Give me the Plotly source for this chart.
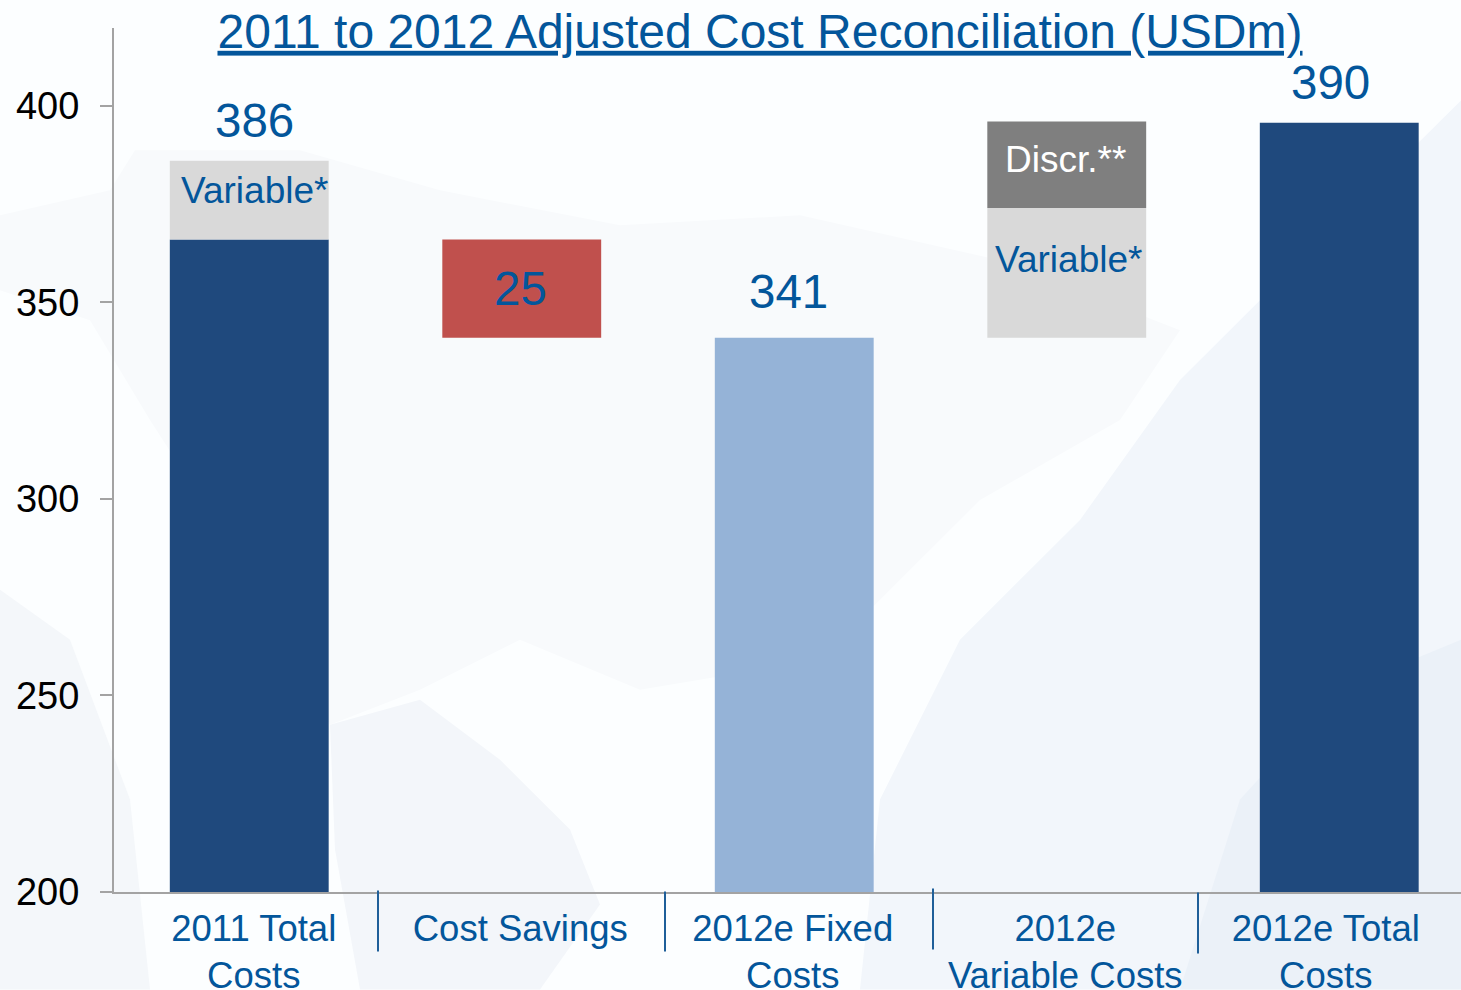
import plotly.graph_objects as go

# ---- data ----
categories = ["2011 Total<br>Costs", "Cost Savings", "2012e Fixed<br>Costs",
              "2012e<br>Variable Costs", "2012e Total<br>Costs"]
positions = [0, 1, 2, 3, 4]
y_ticks = [200, 250, 300, 350, 400]

total_x = [0, 2, 4]
total_base = [200, 200, 199.5]
total_vals = [166, 141, 196.2]
total_colors = ["#1F497D", "#95B3D7", "#1F497D"]

savings_x = [1]
savings_base = [341]
savings_vals = [25]

variable_x = [0, 3]
variable_base = [366, 341]
variable_vals = [20, 33]

discr_x = [3]
discr_base = [374]
discr_vals = [22]

# ---- layout constants (pixels) ----
W, H = 1461, 990
L, R, T, B = 114, 1461, 27.5, 892.5
BLUE = "#03569B"
FONT = "Liberation Sans"
AXIS = "#A3A3A3"


def px(x):
    return (x - L) / (R - L)


def py(y):
    return (B - y) / (B - T)


fig = go.Figure()
for name, xs, base, vals, col in [
    ("Fixed", total_x, total_base, total_vals, total_colors),
    ("Savings", savings_x, savings_base, savings_vals, "#C0504D"),
    ("Variable", variable_x, variable_base, variable_vals, "#D9D9D9"),
    ("Discretionary", discr_x, discr_base, discr_vals, "#7F7F7F"),
]:
    fig.add_trace(go.Bar(name=name, x=xs, y=vals, base=base, width=0.583,
                         marker=dict(color=col, line=dict(width=0)),
                         cliponaxis=False, showlegend=False))

# pale world-map backdrop
land = [
    ("M0,215 L110,190 L135,150 L300,150 L440,190 L620,225 L800,215 L1000,260 L1180,330 L1120,420 L980,500 L880,600 "
     "L820,660 L640,690 L520,640 L420,690 L330,725 L240,560 L150,420 L90,320 L0,290 Z", "#F8FAFC"),
    ("M330,725 L420,700 L500,760 L570,830 L600,905 L540,990 L360,990 L335,850 Z", "#F3F6FA"),
    ("M1461,100 L1330,230 L1180,380 L1080,520 L960,640 L880,800 L860,990 L1461,990 Z", "#F2F6FB"),
    ("M1180,990 L1240,800 L1340,690 L1461,640 L1461,990 Z", "#EBF1F8"),
    ("M0,590 L70,640 L130,800 L150,990 L0,990 Z", "#F4F7FA"),
]
shapes = [dict(type="path", xref="paper", yref="paper", layer="below", line=dict(width=0), fillcolor=c,
               path=" ".join(
                   (seg[0] + f"{px(float(seg[1:].split(',')[0])):.5f},{py(float(seg.split(',')[1])):.5f}")
                   if seg != "Z" else "Z" for seg in p.split()))
          for p, c in land]

# separators under the category labels
for x, y0, y1 in [(378, 891, 952), (665, 892, 952), (933, 889, 950), (1198, 893, 954)]:
    shapes.append(dict(type="line", xref="paper", yref="paper", x0=px(x), x1=px(x), y0=py(y0), y1=py(y1),
                       line=dict(color="#1F5F99", width=2)))
annotations = []


def label(text, x, y, xshift, yshift, size, color=BLUE):
    annotations.append(dict(text=text, x=x, y=y, xref="x", yref="y", xshift=xshift, yshift=yshift,
                            showarrow=False, xanchor="center", yanchor="middle",
                            font=dict(family=FONT, size=size, color=color)))


label("386", 0, 386, 5, 40, 47.5)
label("Variable*", 0, 386, 5, -30, 37)
label("25", 1, 366, -1, -49, 47.5)
label("341", 2, 341, -6, 46, 47.5)
label("Discr.**", 3, 396, -1, -38, 37, "#FFFFFF")
label("Variable*", 3, 374, 2, -51, 37)
label("390", 4, 396, -9, 39, 47.5)

fig.update_layout(
    width=W, height=H, autosize=False,
    margin=dict(l=L, r=W - R, t=T, b=H - B, pad=0),
    paper_bgcolor="#FCFEFF", plot_bgcolor="rgba(0,0,0,0)",
    barmode="overlay", shapes=shapes, annotations=annotations, showlegend=False,
    font=dict(family=FONT),
    title=dict(text="<u>2011 to 2012 Adjusted Cost Reconciliation (USDm)</u>",
               x=760 / W, xanchor="center", y=1 - 31 / H, yanchor="middle", xref="container", yref="container",
               automargin=False, font=dict(family=FONT, size=48, color=BLUE)),
    xaxis=dict(range=[-0.4963, 4.4468], tickvals=[0.0165, 0.9945, 1.9945, 2.9945, 3.9505], ticktext=categories,
               ticks="", showgrid=False, zeroline=False, showline=True, linecolor=AXIS, linewidth=2, automargin=False,
               tickfont=dict(family=FONT, size=36.5, color=BLUE), tickangle=0, ticklabelstandoff=3),
    yaxis=dict(range=[200, 419.8], tickvals=y_ticks, ticks="outside", ticklen=12, tickwidth=2, tickcolor=AXIS,
               showgrid=False, zeroline=False, showline=True, linecolor=AXIS, linewidth=2, automargin=False,
               tickfont=dict(family=FONT, size=38, color="#000000"), ticklabelstandoff=13),
)

fig.write_html("out.html", config=dict(displayModeBar=False),
               post_script="document.body.style.margin='0';document.body.style.overflow='hidden';")
